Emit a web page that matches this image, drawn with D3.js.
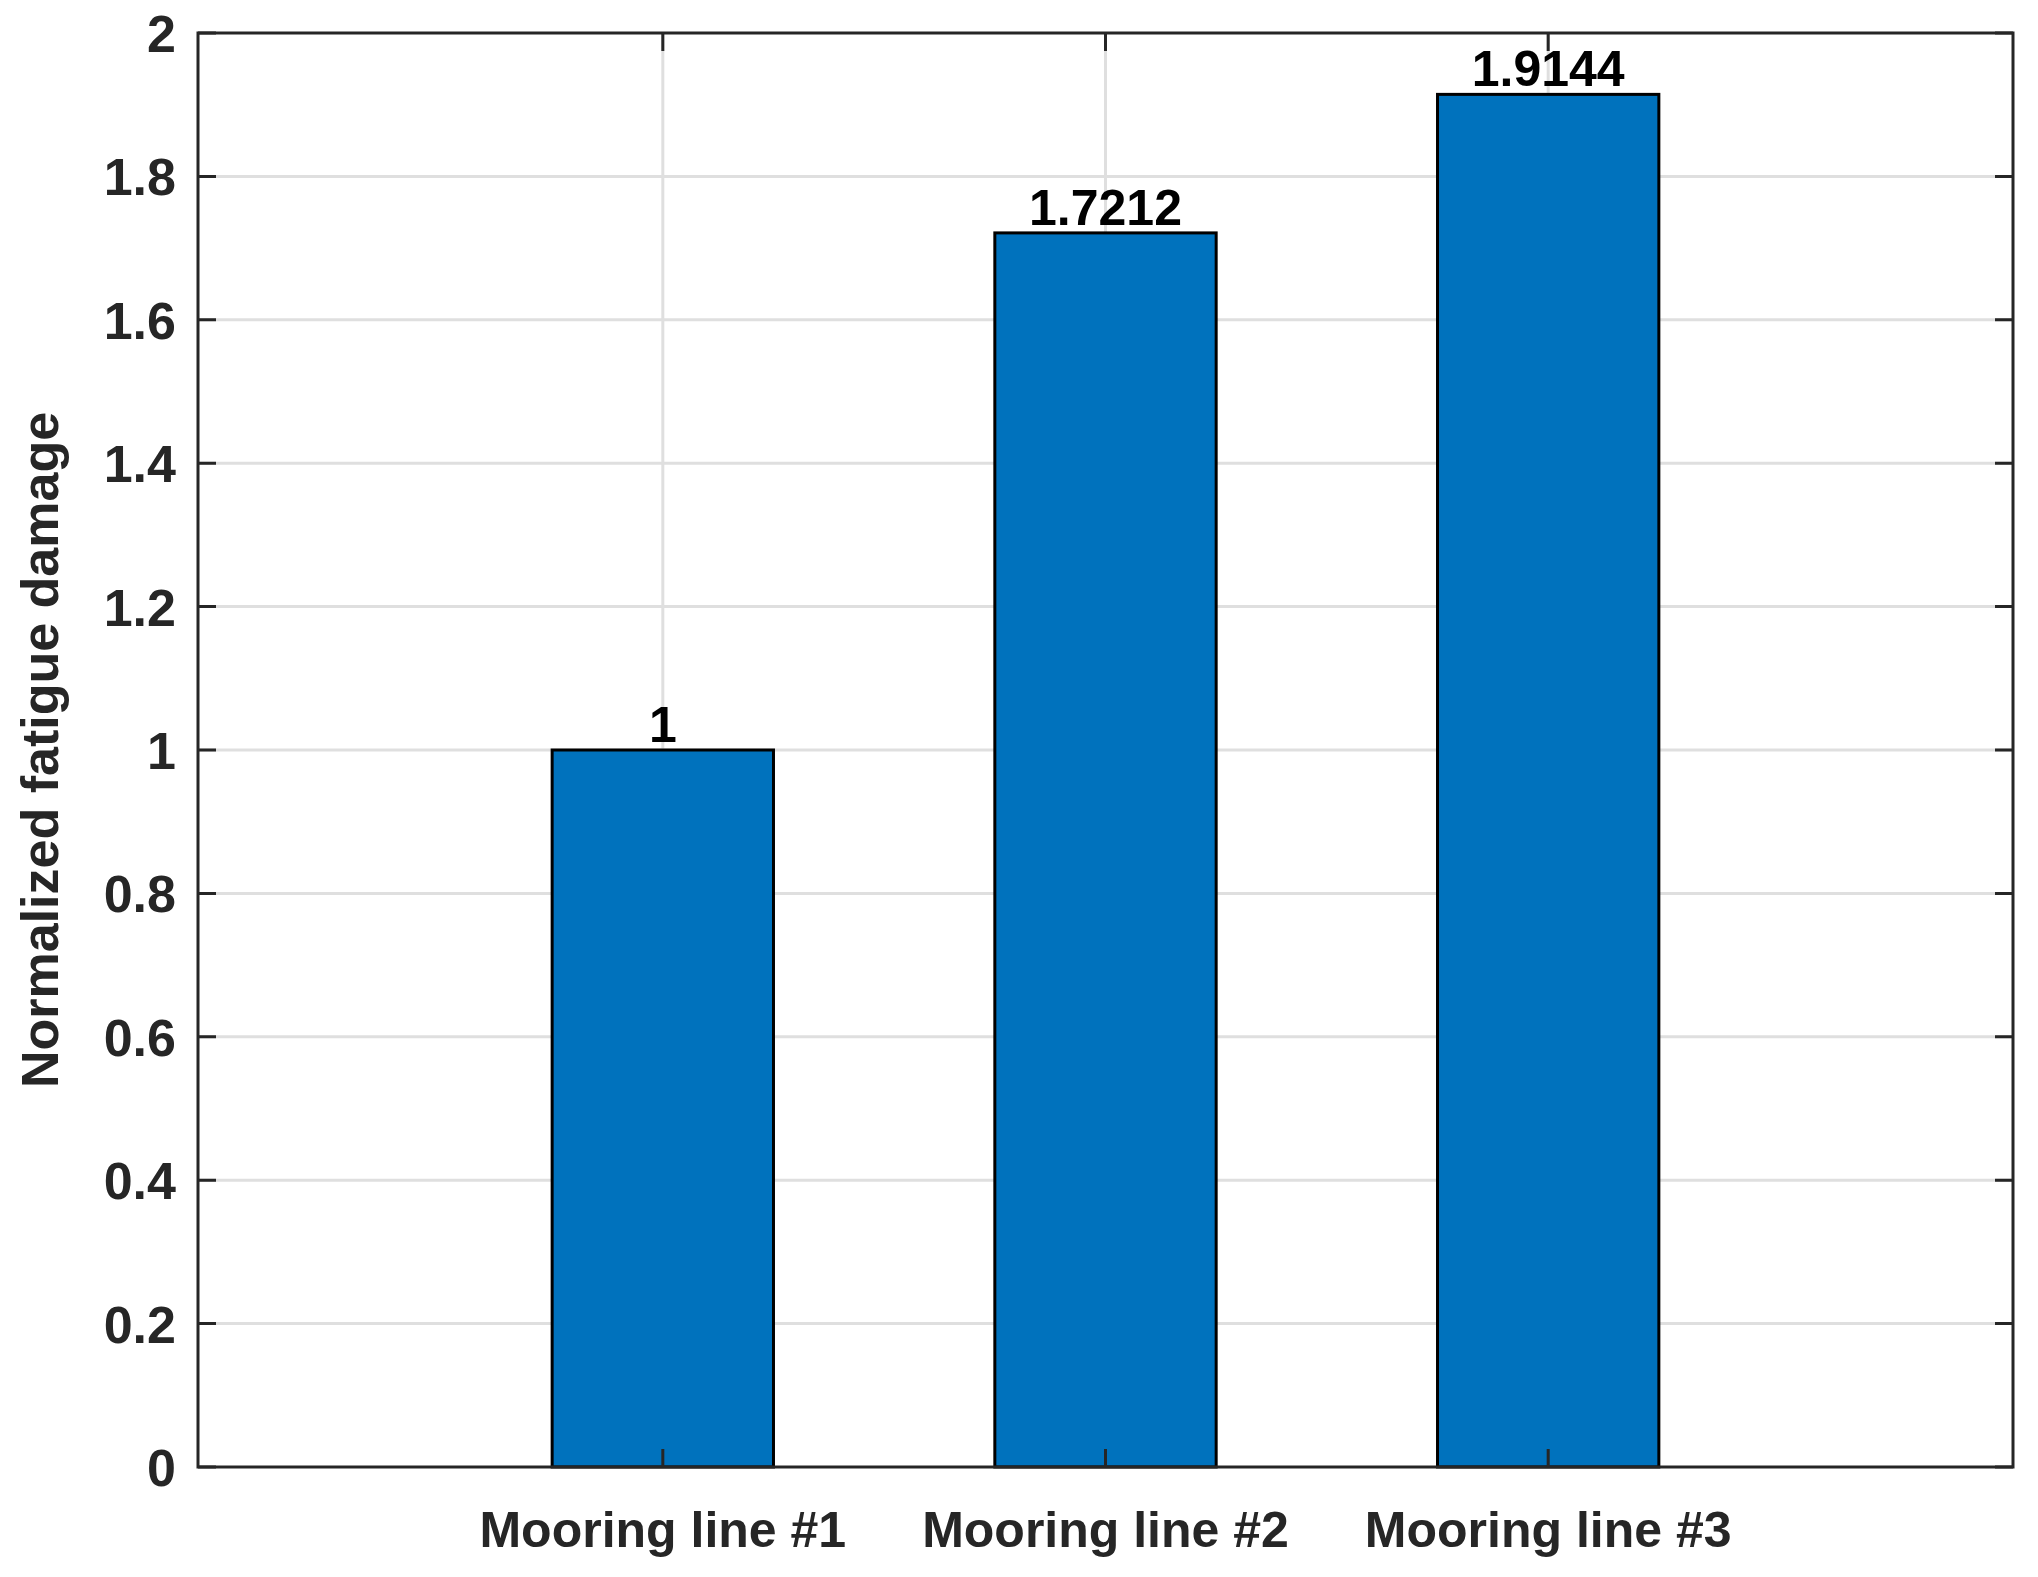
<!DOCTYPE html>
<html><head><meta charset="utf-8">
<script src="https://cdn.jsdelivr.net/npm/d3@7"></script>
<style>body{margin:0;background:#fff}text{font-family:"Liberation Sans",Arial,sans-serif;font-weight:bold;fill:#262626}</style>
</head><body><div id="chart"></div>
<script>
var categories = ["Mooring line #1", "Mooring line #2", "Mooring line #3"];
var values = [1, 1.7212, 1.9144];
var valueLabels = ["1", "1.7212", "1.9144"];
var yTicks = [0, 0.2, 0.4, 0.6, 0.8, 1, 1.2, 1.4, 1.6, 1.8, 2];

var svgWidth = 2038, svgHeight = 1577;
var plotLeft = 198, plotRight = 2013, plotTop = 33, plotBottom = 1467;

var svg = d3.select("#chart").append("svg")
    .attr("width", svgWidth).attr("height", svgHeight);

var x = d3.scaleLinear().domain([-0.05, 4.05]).range([plotLeft, plotRight]);
var y = d3.scaleLinear().domain([0, 2]).range([plotBottom, plotTop]);
var xIdx = categories.map((c, i) => i + 1);

// grid
svg.append("g").selectAll("line").data(yTicks.slice(1, -1)).enter().append("line")
    .attr("x1", plotLeft).attr("x2", plotRight)
    .attr("y1", d => y(d)).attr("y2", d => y(d))
    .attr("stroke", "#dfdfdf").attr("stroke-width", 3);
svg.append("g").selectAll("line").data(xIdx).enter().append("line")
    .attr("x1", d => x(d)).attr("x2", d => x(d))
    .attr("y1", plotTop).attr("y2", plotBottom)
    .attr("stroke", "#dfdfdf").attr("stroke-width", 3);

// bars
svg.append("g").selectAll("rect").data(values).enter().append("rect")
    .attr("x", (d, i) => x(i + 1 - 0.25))
    .attr("width", x(0.5) - x(0))
    .attr("y", d => y(d))
    .attr("height", d => plotBottom - y(d))
    .attr("fill", "#0072bd").attr("stroke", "#000").attr("stroke-width", 3);

// value labels
svg.append("g").selectAll("text").data(values).enter().append("text")
    .attr("x", (d, i) => x(i + 1)).attr("y", d => y(d) - 8)
    .attr("text-anchor", "middle").attr("font-size", 50).style("fill", "#000")
    .text((d, i) => valueLabels[i]);

// frame
svg.append("rect").attr("x", plotLeft).attr("y", plotTop)
    .attr("width", plotRight - plotLeft).attr("height", plotBottom - plotTop)
    .attr("fill", "none").attr("stroke", "#262626").attr("stroke-width", 3);

// ticks (inward, both sides)
var tk = 18;
svg.append("g").selectAll("path").data(yTicks).enter().append("path")
    .attr("d", d => `M${plotLeft},${y(d)}h${tk}M${plotRight},${y(d)}h${-tk}`)
    .attr("stroke", "#262626").attr("stroke-width", 3);
svg.append("g").selectAll("path").data(xIdx).enter().append("path")
    .attr("d", d => `M${x(d)},${plotBottom}v${-tk}M${x(d)},${plotTop}v${tk}`)
    .attr("stroke", "#262626").attr("stroke-width", 3);

// tick labels
svg.append("g").selectAll("text").data(yTicks).enter().append("text")
    .attr("x", plotLeft - 22).attr("y", d => y(d) + 19)
    .attr("text-anchor", "end").attr("font-size", 52)
    .text(d => d3.format("~g")(d));
svg.append("g").selectAll("text").data(categories).enter().append("text")
    .attr("x", (d, i) => x(i + 1)).attr("y", plotBottom + 80)
    .attr("text-anchor", "middle").attr("font-size", 50)
    .text(d => d);

// y axis title
svg.append("text")
    .attr("transform", `translate(58,${(plotTop + plotBottom) / 2}) rotate(-90)`)
    .attr("text-anchor", "middle").attr("font-size", 52)
    .text("Normalized fatigue damage");
</script></body></html>
